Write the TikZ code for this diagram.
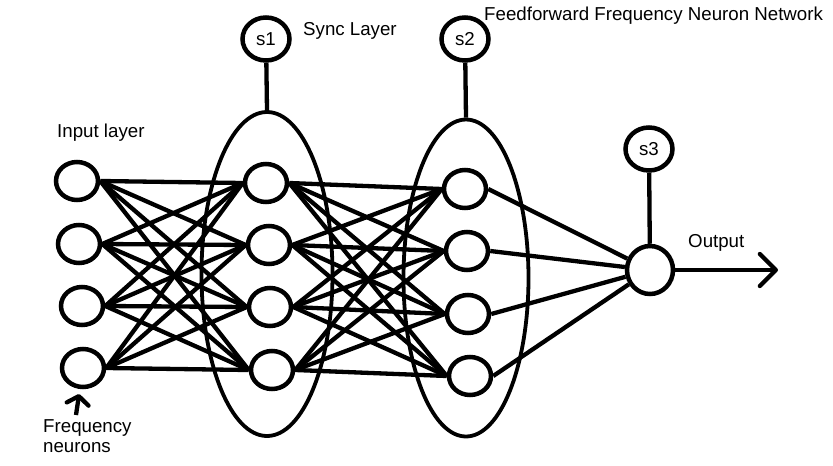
\documentclass[tikz,border=0pt]{standalone}
\usepackage{fontspec}
\setmainfont{Liberation Sans}
\usetikzlibrary{shapes.geometric,arrows.meta}
\begin{document}
\begin{tikzpicture}[x=1pt,y=-1pt,
 neuron/.style={draw,ellipse,line width=4.5pt,inner sep=0pt,minimum width=42pt,minimum height=38pt},
 snode/.style={draw,ellipse,line width=4.5pt,inner sep=0pt,minimum width=47pt,minimum height=43pt,font=\fontsize{18.7}{22}\selectfont},
 layer/.style={draw,ellipse,line width=3.8pt,inner sep=0pt},
 conn/.style={line width=4.3pt},
 lbl/.style={font=\fontsize{18.7}{22}\selectfont,inner sep=0pt,anchor=base west}]
\useasboundingbox (0,0) rectangle (833,466);
% layer ellipses
\node[layer,minimum width=131pt,minimum height=324pt] (E1) at (267,274) {};
\node[layer,minimum width=125pt,minimum height=317pt] (E2) at (466,278) {};
% neurons
\node[neuron] (i1) at (77,181) {};
\node[neuron] (i2) at (79,244) {};
\node[neuron] (i3) at (82,306) {};
\node[neuron] (i4) at (83,368) {};
\node[neuron] (h1) at (266,183) {};
\node[neuron] (h2) at (269,245) {};
\node[neuron] (h3) at (270,307) {};
\node[neuron] (h4) at (272,370) {};
\node[neuron] (g1) at (465,189) {};
\node[neuron] (g2) at (467,251) {};
\node[neuron] (g3) at (468,314) {};
\node[neuron] (g4) at (470,376) {};
\node[neuron,minimum width=46pt,minimum height=48pt] (out) at (650,270) {};
% sync nodes
\node[snode] (s1) at (266,39) {s1};
\node[snode] (s2) at (465,39) {s2};
\node[snode] (s3) at (649,149) {s3};
\draw[conn] (s1) -- (E1.north);
\draw[conn] (s2) -- (E2.north);
\draw[conn] (s3) -- (out);
% connections
\foreach \a in {i1,i2,i3,i4}{\foreach \b in {h1,h2,h3,h4}{\draw[conn] (\a.east) -- (\b.west);}}
\foreach \a in {h1,h2,h3,h4}{\foreach \b in {g1,g2,g3,g4}{\draw[conn] (\a.east) -- (\b.west);}}
\foreach \a in {g1,g2,g3,g4}{\draw[conn] (\a.east) -- (out);}
% output arrow
\coordinate (oend) at (778,270);
\draw[conn,-{Straight Barb[round,length=16pt,width=32pt]}] (out) -- (oend);
% frequency arrow
\coordinate (fstart) at (76,415);
\draw[conn,-{Straight Barb[round,length=8pt,width=22pt]},shorten >=5pt] (fstart) -- (i4);
% labels
\node[lbl] (tin) at (57,137) {Input layer};
\node[lbl] (tsync) at (303,35) {Sync Layer};
\node[lbl] (tff) at (484,20) {Feedforward Frequency Neuron Network};
\node[lbl] (tout) at (688,247) {Output};
\node[lbl] (tf1) at (43,432) {Frequency};
\node[lbl] (tf2) at (43,452) {neurons};
\end{tikzpicture}
\end{document}
